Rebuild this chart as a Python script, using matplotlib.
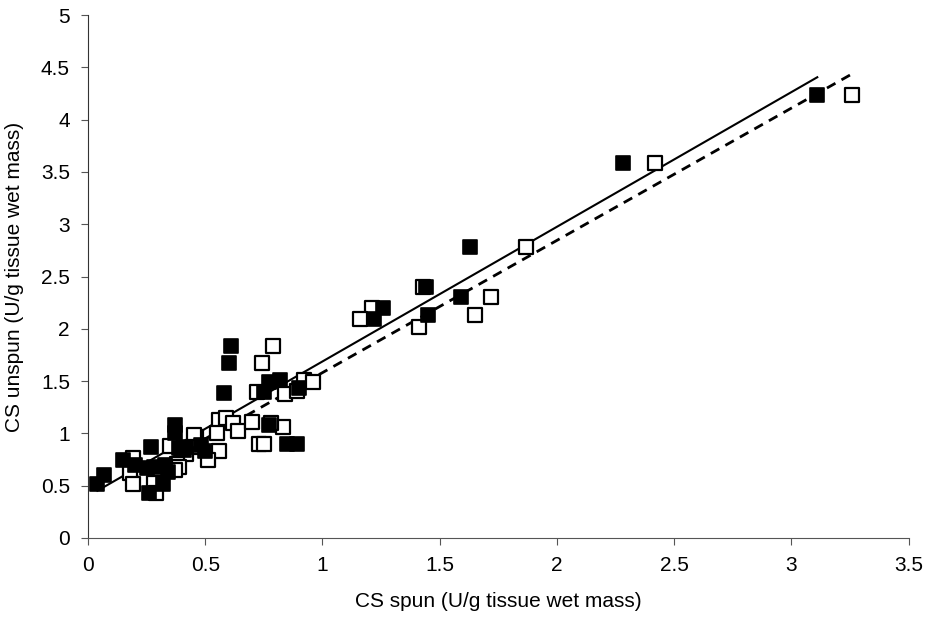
import numpy as np
import matplotlib
matplotlib.use('Agg')
import matplotlib.pyplot as plt
from matplotlib import font_manager

# filled squares
filled_x = [3.11, 2.28, 1.63, 1.59, 1.44, 1.45, 1.26, 1.22,
            0.61, 0.60, 0.58, 0.77, 0.82, 0.75, 0.90,
            0.77, 0.85, 0.89, 0.37, 0.37, 0.27, 0.42, 0.48, 0.50, 0.39, 0.41,
            0.15, 0.25, 0.28, 0.33, 0.34, 0.07, 0.04, 0.32, 0.26, 0.20]
filled_y = [4.24, 3.59, 2.78, 2.30, 2.40, 2.13, 2.20, 2.09,
            1.84, 1.67, 1.39, 1.49, 1.51, 1.40, 1.43,
            1.08, 0.90, 0.90, 1.08, 1.00, 0.87, 0.87, 0.89, 0.83, 0.86, 0.84,
            0.75, 0.67, 0.68, 0.70, 0.63, 0.60, 0.52, 0.52, 0.43, 0.70]

# open squares
open_x = [3.26, 2.42, 1.87, 1.72, 1.43, 1.65, 1.21, 1.16, 1.41,
          0.79, 0.74, 0.72, 0.92, 0.96, 0.84, 0.89,
          0.56, 0.59, 0.62, 0.64, 0.70, 0.83, 0.78, 0.73, 0.75,
          0.55, 0.46, 0.45, 0.35, 0.56, 0.51, 0.45, 0.42, 0.19, 0.18, 0.19,
          0.28, 0.29, 0.38, 0.39, 0.37]
open_y = [4.24, 3.59, 2.78, 2.30, 2.40, 2.13, 2.20, 2.09, 2.02,
          1.84, 1.67, 1.40, 1.51, 1.49, 1.38, 1.41,
          1.13, 1.15, 1.10, 1.02, 1.11, 1.06, 1.10, 0.90, 0.90,
          1.00, 0.97, 0.98, 0.88, 0.83, 0.75, 0.87, 0.80, 0.76, 0.62, 0.52,
          0.53, 0.43, 0.71, 0.68, 0.65]

# linear trendlines (slope, intercept)
filled_fit = (1.288, 0.40)
open_fit = (1.265, 0.316)

names = {f.name for f in font_manager.fontManager.ttflist}
tick_font = 'Liberation Sans Narrow' if 'Liberation Sans Narrow' in names else 'Liberation Sans'

fig = plt.figure(figsize=(9.38, 6.21), dpi=100)
ax = fig.add_axes([0.0938, 0.1337, 0.875, 0.842])

ax.scatter(open_x, open_y, marker='s', s=95, facecolor='white', edgecolor='black',
           linewidth=1.6, zorder=3)
ax.scatter(filled_x, filled_y, marker='s', s=95, facecolor='black', edgecolor='black',
           linewidth=1.2, zorder=4)

xf = np.array([min(filled_x), max(filled_x)])
ax.plot(xf, filled_fit[0] * xf + filled_fit[1], color='black', lw=1.5, zorder=2)
xo = np.array([min(open_x), max(open_x)])
ax.plot(xo, open_fit[0] * xo + open_fit[1], color='black', lw=2, ls=(0, (3.5, 2.5)), zorder=2)

ax.set_xlim(0, 3.5)
ax.set_ylim(0, 5)
ax.set_xticks(np.arange(0, 3.51, 0.5))
ax.set_yticks(np.arange(0, 5.01, 0.5))
ax.set_xticklabels(['0', '0.5', '1', '1.5', '2', '2.5', '3', '3.5'])
ax.set_yticklabels(['0', '0.5', '1', '1.5', '2', '2.5', '3', '3.5', '4', '4.5', '5'])
for lab in ax.get_xticklabels() + ax.get_yticklabels():
    lab.set_fontfamily(tick_font)
    lab.set_fontsize(15)
ax.tick_params(axis='both', direction='out', length=5, width=0.8, color='#555555', pad=8)

ax.spines['top'].set_visible(False)
ax.spines['right'].set_visible(False)
ax.spines['left'].set_color('#333333')
ax.spines['bottom'].set_color('#555555')

ax.set_xlabel('CS spun (U/g tissue wet mass)', fontsize=15, family='Liberation Sans', labelpad=12)
ax.set_ylabel('CS unspun (U/g tissue wet mass)', fontsize=15, family='Liberation Sans', labelpad=12)

fig.savefig('out.png', dpi=100)
